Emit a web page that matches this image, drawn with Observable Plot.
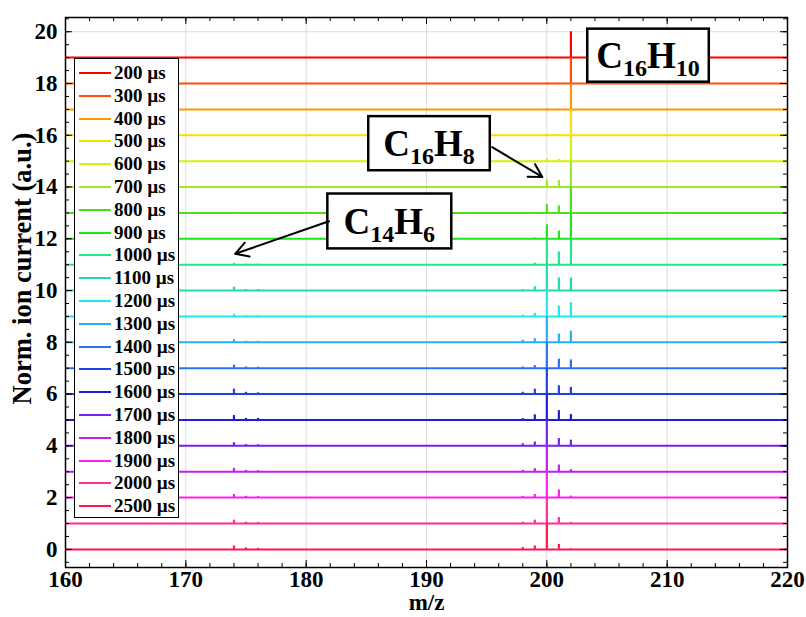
<!DOCTYPE html>
<html><head><meta charset="utf-8">
<script src="https://cdn.jsdelivr.net/npm/d3@7"></script>
<script src="https://cdn.jsdelivr.net/npm/@observablehq/plot@0.6"></script>
<style>
body{margin:0;background:#fff;}
#chart{position:relative;width:806px;height:617px;}
#legend{position:absolute;left:74px;top:58px;width:103px;height:458px;border:1.5px solid #000;background:#fff;box-sizing:content-box;}
.entry{position:absolute;left:0;height:20px;width:103px;}
.entry .sw{position:absolute;left:4px;top:9px;width:32px;height:2px;}
.entry .lb{position:absolute;left:39px;top:-1px;font:bold 19px 'Liberation Serif',serif;line-height:22px;white-space:nowrap;color:#000;}
</style></head><body><div id="chart"></div>
<script>
// ---- data ----
const delays = ["200 µs","300 µs","400 µs","500 µs","600 µs","700 µs","800 µs","900 µs","1000 µs","1100 µs",
  "1200 µs","1300 µs","1400 µs","1500 µs","1600 µs","1700 µs","1800 µs","1900 µs","2000 µs","2500 µs"];
const offsets = [19,18,17,16,15,14,13,12,11,10,9,8,7,6,5,4,3,2,1,0];
const colors = ["#ff0000","#ff4d0f","#ff9900","#ffdd00","#d9f000","#a0e82a","#4ddf1a","#1ee61e","#1ee88c","#1edcb0",
  "#1ee8f0","#26b0f0","#2873ee","#2040e4","#1e1ed8","#7820ee","#c020ee","#ff20e6","#ff2c9a","#ff1450"];
const peakMz = [174,175,176,198,199,200,201,202];
// normalized peak heights per delay (rows follow delays), columns follow peakMz
const peakHeights = [
  [0,0,0,0,0,0.02,0.01,1.0],
  [0,0,0,0,0,0.02,0.01,1.0],
  [0,0,0,0,0,0.03,0.02,1.0],
  [0,0,0,0,0,0.04,0.03,1.0],
  [0,0,0,0,0,0.08,0.07,1.0],
  [0,0,0,0,0.01,0.27,0.25,1.0],
  [0.01,0,0,0,0.02,0.32,0.27,1.0],
  [0.02,0,0,0,0.03,0.54,0.30,1.0],
  [0.05,0.02,0.02,0.01,0.06,0.95,0.49,1.0],
  [0.13,0.04,0.04,0.03,0.15,1.0,0.49,0.49],
  [0.08,0.03,0.03,0.05,0.12,1.0,0.40,0.53],
  [0.10,0.04,0.04,0.08,0.14,1.0,0.32,0.43],
  [0.12,0.05,0.04,0.05,0.10,1.0,0.35,0.32],
  [0.19,0.07,0.05,0.07,0.19,1.0,0.32,0.26],
  [0.17,0.06,0.06,0.05,0.20,1.0,0.36,0.21],
  [0.12,0.05,0.04,0.08,0.15,1.0,0.28,0.22],
  [0.13,0.05,0.04,0.05,0.12,1.0,0.26,0.08],
  [0.12,0.05,0.04,0.05,0.12,1.0,0.30,0.06],
  [0.13,0.05,0.04,0.05,0.13,1.0,0.23,0.04],
  [0.13,0.06,0.04,0.07,0.13,1.0,0.19,0.02]
];
const xTicks = [160,170,180,190,200,210,220];
const yTicks = [0,2,4,6,8,10,12,14,16,18,20];
const xMinorTicks = d3.range(160, 220.01, 2);
const yMinorTicks = d3.range(-0.5, 20.51, 0.5);

// annotations (data coordinates)
const annLabels = [["C","16","H","10"],["C","16","H","8"],["C","14","H","6"]];
const annX1 = [203.4, 185.2, 181.8];
const annX2 = [213.5, 195.3, 192.1];
const annY1 = [18.05, 14.63, 11.61];
const annY2 = [20.1, 16.72, 13.73];
const arrowX1 = [195.46, 181.9];
const arrowY1 = [15.54, 12.68];
const arrowX2 = [199.62, 174.1];
const arrowY2 = [14.39, 11.42];

// ---- tables ----
const baselines = delays.map((d,i)=>({delay:d, offset:offsets[i]}));
const peaks = delays.flatMap((d,i)=>peakMz.map((m,j)=>({delay:d, mz:m, y1:offsets[i], y2:offsets[i]+peakHeights[i][j]})))
  .filter(p=>p.y2>p.y1);
const boxes = annLabels.map((l,i)=>({x1:annX1[i], x2:annX2[i], y1:annY1[i], y2:annY2[i]}));
const arrows = arrowX1.map((v,i)=>({x1:v, y1:arrowY1[i], x2:arrowX2[i], y2:arrowY2[i]}));

const W=806, H=617, mL=65, mR=19, mT=17, mB=50;
const iW = W-mL-mR, iH = H-mT-mB;

const plot = Plot.plot({
  width: W, height: H, marginLeft: mL, marginRight: mR, marginTop: mT, marginBottom: mB,
  x: {domain:[160,220], ticks: xTicks, tickSize: 0, tickPadding: 3, label: null},
  y: {domain:[-0.7,20.55], ticks: yTicks, tickSize: 0, tickPadding: 8, label: null},
  color: {domain: delays, range: colors},
  style: {fontFamily:"'Liberation Serif', serif", fontSize:"23px", fontWeight:"bold", background:"white", color:"#000", overflow:"visible"},
  marks: [
    Plot.gridX(xTicks.slice(1,-1), {stroke:"#dcdcdc", strokeOpacity:1}),
    Plot.gridY(yTicks, {stroke:"#dcdcdc", strokeOpacity:1}),
    Plot.ruleY(baselines, {y:"offset", stroke:"delay", strokeWidth:2}),
    Plot.ruleX(peaks, {x:"mz", y1:"y1", y2:"y2", stroke:"delay", strokeWidth:2.2}),
    // inward ticks (MATLAB style) on all four sides
    Plot.tickX(xMinorTicks, {x:d=>d, insetTop:iH-4, stroke:"black"}),
    Plot.tickX(xTicks, {x:d=>d, insetTop:iH-7, stroke:"black"}),
    Plot.tickX(xMinorTicks, {x:d=>d, insetBottom:iH-4, stroke:"black"}),
    Plot.tickX(xTicks, {x:d=>d, insetBottom:iH-7, stroke:"black"}),
    Plot.tickY(yMinorTicks, {y:d=>d, insetRight:iW-4, stroke:"black"}),
    Plot.tickY(yTicks, {y:d=>d, insetRight:iW-7, stroke:"black"}),
    Plot.tickY(yMinorTicks, {y:d=>d, insetLeft:iW-4, stroke:"black"}),
    Plot.tickY(yTicks, {y:d=>d, insetLeft:iW-7, stroke:"black"}),
    Plot.rect(boxes, {x1:"x1", x2:"x2", y1:"y1", y2:"y2", fill:"white", stroke:"black", strokeWidth:2.5}),
    Plot.arrow(arrows, {x1:"x1", y1:"y1", x2:"x2", y2:"y2", stroke:"black", strokeWidth:2, headLength:11}),
    Plot.text(["m/z"], {frameAnchor:"bottom", dy:42, fontSize:23, fontWeight:"bold"}),
    Plot.text(["Norm. ion current (a.u.)"], {frameAnchor:"left", textAnchor:"middle", rotate:-90, dx:-43, dy:-24, fontSize:26.5, fontWeight:"bold"}),
    Plot.frame({stroke:"black", strokeWidth:1.5})
  ]
});

const chart = document.getElementById("chart");
chart.appendChild(plot);

// annotation texts with subscripts, placed via the plot's scales
const sx = plot.scale("x"), sy = plot.scale("y");
const svg = d3.select(plot);
annLabels.forEach((parts,i)=>{
  const cx = sx.apply((annX1[i]+annX2[i])/2);
  const cy = sy.apply((annY1[i]+annY2[i])/2);
  const t = svg.append("text").attr("x", cx).attr("y", cy+13).attr("text-anchor","middle")
    .attr("font-family","'Liberation Serif', serif").attr("font-weight","bold").attr("fill","#000");
  t.append("tspan").attr("font-size",37).text(parts[0]);
  t.append("tspan").attr("font-size",24).attr("dy",8).text(parts[1]);
  t.append("tspan").attr("font-size",37).attr("dy",-8).text(parts[2]);
  t.append("tspan").attr("font-size",24).attr("dy",8).text(parts[3]);
});

// legend (inside the axes, upper left)
const legend = d3.select(chart).append("div").attr("id","legend");
delays.forEach((d,i)=>{
  const e = legend.append("div").attr("class","entry").style("top", (4 + 22.8*i) + "px");
  e.append("div").attr("class","sw").style("background", colors[i]);
  e.append("div").attr("class","lb").text(d);
});
</script>
</body></html>
